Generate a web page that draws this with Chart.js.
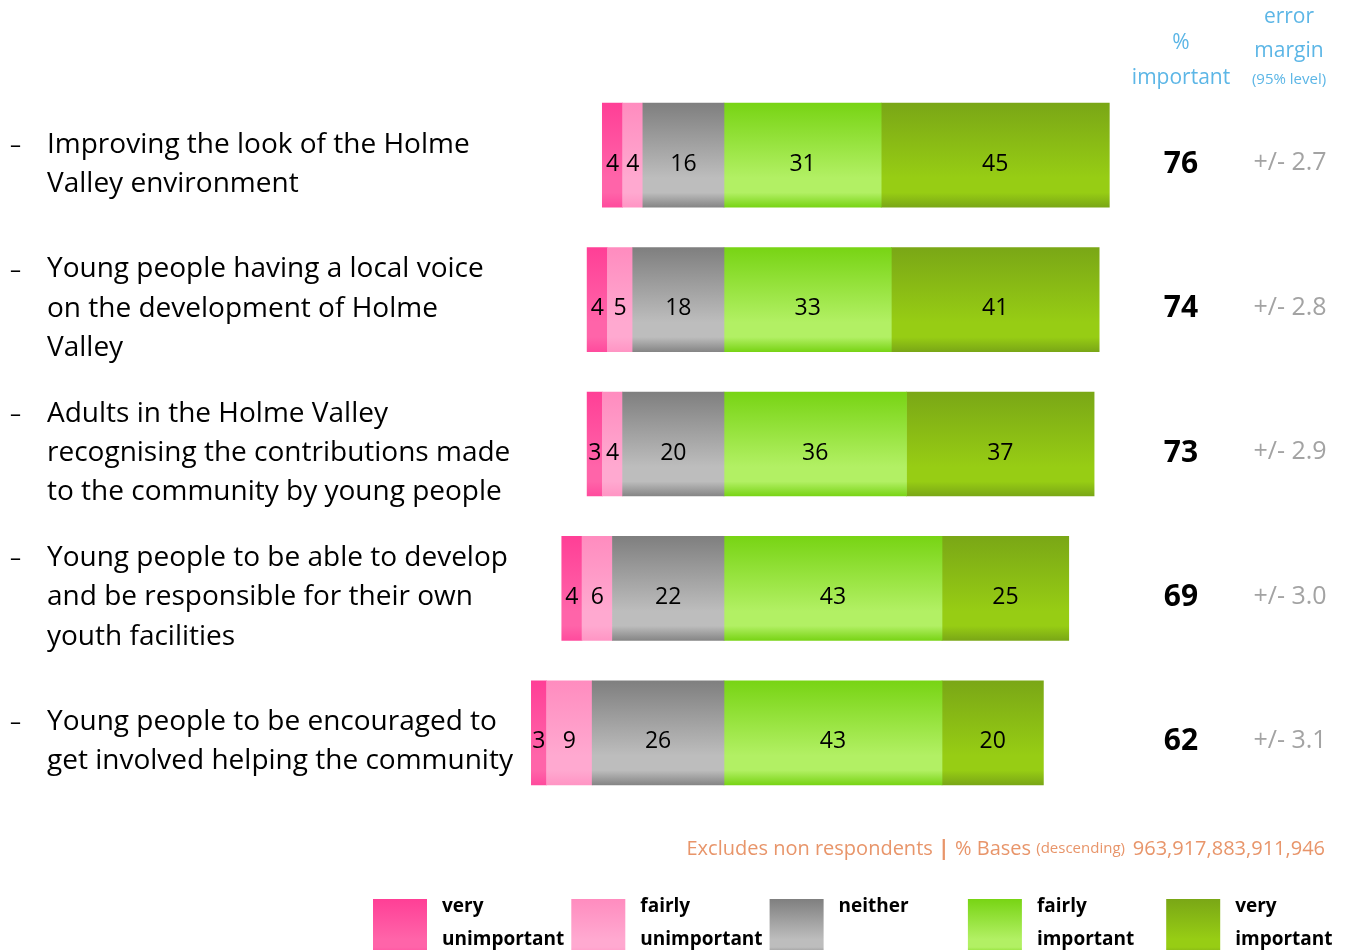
<!DOCTYPE html>
<html>
<head>
<meta charset="utf-8">
<script src="https://cdn.jsdelivr.net/npm/chart.js@4.4.1/dist/chart.umd.min.js"></script>
<style>
  html, body { margin: 0; padding: 0; background: #fff; }
  #wrap { width: 1346px; height: 950px; position: relative; }
</style>
</head>
<body>
<div id="wrap"><canvas id="chart"></canvas></div>
<script>
const categories = [
  ['Improving the look of the Holme', 'Valley environment'],
  ['Young people having a local voice', 'on the development of Holme', 'Valley'],
  ['Adults in the Holme Valley', 'recognising the contributions made', 'to the community by young people'],
  ['Young people to be able to develop', 'and be responsible for their own', 'youth facilities'],
  ['Young people to be encouraged to', 'get involved helping the community']
];
const veryUnimportant = [4, 4, 3, 4, 3];
const fairlyUnimportant = [4, 5, 4, 6, 9];
const neither = [16, 18, 20, 22, 26];
const fairlyImportant = [31, 33, 36, 43, 43];
const veryImportant = [45, 41, 37, 25, 20];
const pctImportant = [76, 74, 73, 69, 62];
const errorMargin = ['+/- 2.7', '+/- 2.8', '+/- 2.9', '+/- 3.0', '+/- 3.1'];
const bases = '963,917,883,911,946';
const legendLabels = [
  ['very', 'unimportant'],
  ['fairly', 'unimportant'],
  ['neither'],
  ['fairly', 'important'],
  ['very', 'important']
];

const FONT = "'Segoe UI', 'Open Sans', sans-serif";
const BAR_H = 104;

// gradient stops per series: top, light band, bottom
const stops = {
  veryUnimp: ['#ff3f96', '#ff64a9', '#ff4b9d'],
  fairlyUnimp: ['#ff8cbf', '#ffa9d0', '#ff95c4'],
  neither: ['#7f7f7f', '#bdbdbd', '#868686'],
  fairlyImp: ['#78d414', '#b2f064', '#79d416'],
  veryImp: ['#7aa716', '#97cd14', '#7aa716']
};

function fillGradient(ctx, key, top, h) {
  const s = stops[key];
  const g = ctx.createLinearGradient(0, top, 0, top + h);
  g.addColorStop(0, s[0]);
  g.addColorStop(0.72, s[1]);
  g.addColorStop(0.86, s[1]);
  g.addColorStop(1, s[2]);
  return g;
}

function barGradient(key) {
  return function(ctx) {
    const chart = ctx.chart;
    const yScale = chart.scales.y;
    if (ctx.dataIndex === undefined || !yScale || !chart.chartArea) return stops[key][1];
    const cy = yScale.getPixelForValue(ctx.dataIndex);
    return fillGradient(chart.ctx, key, cy - BAR_H / 2, BAR_H);
  };
}

const neg = arr => arr.map(v => -v);

// negative stacks grow away from zero in dataset order
const datasets = [
  { key: 'neither', data: neg(neither) },
  { key: 'fairlyUnimp', data: neg(fairlyUnimportant) },
  { key: 'veryUnimp', data: neg(veryUnimportant) },
  { key: 'fairlyImp', data: fairlyImportant },
  { key: 'veryImp', data: veryImportant }
].map(d => ({
  key: d.key,
  data: d.data,
  backgroundColor: barGradient(d.key),
  borderWidth: 0,
  barThickness: BAR_H
}));

const legendKeys = ['veryUnimp', 'fairlyUnimp', 'neither', 'fairlyImp', 'veryImp'];

const extrasPlugin = {
  id: 'extras',
  afterDatasetsDraw(chart) {
    const ctx = chart.ctx;
    ctx.save();
    ctx.fillStyle = '#000';
    ctx.font = '23px ' + FONT;
    ctx.textAlign = 'center';
    ctx.textBaseline = 'middle';
    chart.data.datasets.forEach((ds, di) => {
      const meta = chart.getDatasetMeta(di);
      meta.data.forEach((el, i) => {
        const x = (el.x + el.base) / 2;
        ctx.fillText(String(Math.abs(ds.data[i])), x, el.y + 9);
      });
    });
    ctx.restore();
  },
  afterDraw(chart) {
    const ctx = chart.ctx;
    const yScale = chart.scales.y;
    ctx.save();
    ctx.textBaseline = 'middle';

    // category labels
    const lh = 39.3;
    ctx.fillStyle = '#000';
    ctx.font = '28px ' + FONT;
    categories.forEach((lines, i) => {
      const cy = yScale.getPixelForValue(i) + 9;
      const y0 = cy - (lines.length - 1) * lh / 2;
      ctx.textAlign = 'left';
      lines.forEach((t, j) => ctx.fillText(t, 47, y0 + j * lh));
      ctx.font = '22px ' + FONT;
      ctx.fillText('\u2013', 10, y0 + 1);
      ctx.font = '28px ' + FONT;
    });

    // headers
    ctx.fillStyle = '#5cb6e6';
    ctx.textAlign = 'center';
    ctx.font = '21px ' + FONT;
    ctx.fillText('%', 1181, 43);
    ctx.fillText('important', 1181, 78);
    ctx.fillText('error', 1289, 17);
    ctx.fillText('margin', 1289, 51);
    ctx.font = '15px ' + FONT;
    ctx.fillText('(95% level)', 1289, 80);

    // right columns
    pctImportant.forEach((v, i) => {
      const cy = yScale.getPixelForValue(i);
      ctx.fillStyle = '#000';
      ctx.font = 'bold 30px ' + FONT;
      ctx.fillText(String(v), 1181, cy + 9);
      ctx.fillStyle = '#a3a3a3';
      ctx.font = '25px ' + FONT;
      ctx.fillText(errorMargin[i], 1290, cy + 8);
    });

    // footer note, drawn right to left
    ctx.fillStyle = '#e8956a';
    ctx.textAlign = 'right';
    let x = 1325;
    const fy = 849;
    const parts = [
      [bases, '20px ' + FONT],
      ['(descending)  ', '15px ' + FONT],
      ['% Bases ', '20px ' + FONT],
      ['| ', 'bold 21px ' + FONT],
      ['Excludes non respondents ', '20px ' + FONT]
    ];
    parts.forEach(([t, f]) => {
      ctx.font = f;
      ctx.fillText(t, x, fy);
      x -= ctx.measureText(t).width;
    });

    // legend
    ctx.textAlign = 'left';
    ctx.font = 'bold 19px ' + FONT;
    legendKeys.forEach((key, i) => {
      const bx = 373 + i * 198.3;
      const by = 899;
      ctx.fillStyle = fillGradient(ctx, key, by, 56);
      ctx.fillRect(bx, by, 54, 56);
      ctx.fillStyle = '#000';
      legendLabels[i].forEach((t, j) => ctx.fillText(t, bx + 69, 907 + j * 33));
    });
    ctx.restore();
  }
};

new Chart(document.getElementById('chart'), {
  type: 'bar',
  data: { labels: categories.map(c => c.join(' ')), datasets },
  options: {
    indexAxis: 'y',
    responsive: true,
    maintainAspectRatio: false,
    animation: false,
    layout: { padding: { left: 521.2, right: 216.4, top: 83, bottom: 145 } },
    scales: {
      x: { stacked: true, min: -40, max: 80, display: false },
      y: { stacked: true, display: false }
    },
    plugins: {
      legend: { display: false },
      tooltip: { enabled: false }
    }
  },
  plugins: [extrasPlugin]
});
</script>
</body>
</html>
